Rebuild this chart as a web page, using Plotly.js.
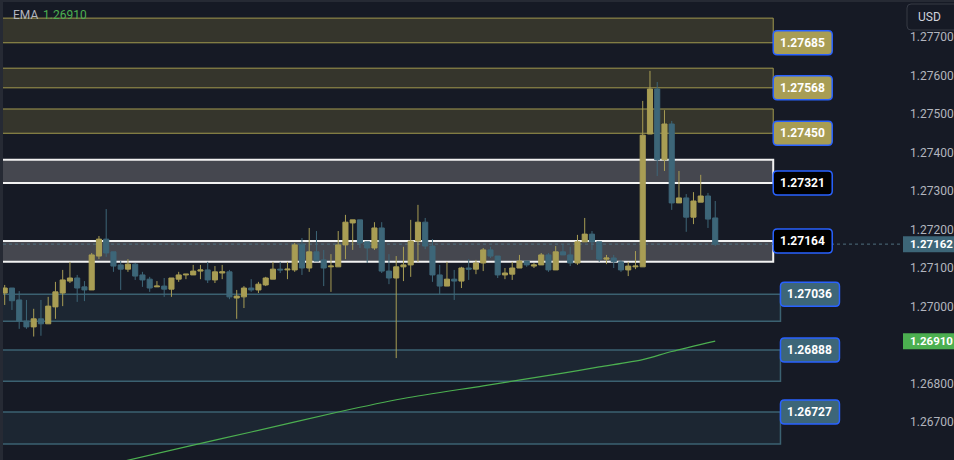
<!DOCTYPE html>
<html><head><meta charset="utf-8">
<script src="https://cdn.plot.ly/plotly-3.0.1.min.js"></script>
<style>
html,body{margin:0;padding:0;background:#262a34;width:954px;height:460px;overflow:hidden}
#chart{position:absolute;left:3px;top:2px;width:951px;height:458px}
</style></head><body><div id="chart"></div>
<script>
// ---- data ----
const openP = [
1.27035,1.27048,1.27017,1.26962,1.26947,1.26968,1.26955,1.26999,1.27035,1.27066,
1.27074,1.27051,1.27043,1.27131,1.27175,1.27142,1.27108,1.27097,1.27110,1.27082,
1.27071,1.27051,1.27053,1.27045,1.27071,1.27082,1.27082,1.27092,1.27095,1.27069,
1.27087,1.27090,1.27022,1.27025,1.27048,1.27043,1.27056,1.27071,1.27097,1.27095,
1.27095,1.27162,1.27100,1.27142,1.27121,1.27103,1.27103,1.27160,1.27217,1.27225,
1.27168,1.27152,1.27204,1.27092,1.27074,1.27103,1.27108,1.27170,1.27219,1.27157,
1.27082,1.27053,1.27071,1.27066,1.27100,1.27097,1.27113,1.27147,1.27131,1.27082,
1.27084,1.27100,1.27118,1.27105,1.27108,1.27134,1.27095,1.27142,1.27134,1.27113,
1.27168,1.27188,1.27168,1.27123,1.27126,1.27116,1.27095,1.27103,1.27103,1.27448,
1.27565,1.27381,1.27474,1.27269,1.27282,1.27232,1.27271,1.27287,1.27230];
const highP = [
1.27056,1.27048,1.27040,1.27017,1.26994,1.27017,1.27025,1.27064,1.27095,1.27116,
1.27082,1.27066,1.27139,1.27183,1.27253,1.27142,1.27118,1.27123,1.27113,1.27090,
1.27077,1.27066,1.27074,1.27074,1.27090,1.27084,1.27108,1.27108,1.27116,1.27105,
1.27108,1.27095,1.27043,1.27053,1.27071,1.27064,1.27077,1.27116,1.27116,1.27116,
1.27165,1.27178,1.27204,1.27196,1.27147,1.27136,1.27196,1.27238,1.27225,1.27225,
1.27168,1.27219,1.27219,1.27136,1.27131,1.27155,1.27225,1.27264,1.27230,1.27175,
1.27108,1.27116,1.27095,1.27103,1.27123,1.27121,1.27152,1.27155,1.27131,1.27100,
1.27116,1.27134,1.27118,1.27113,1.27139,1.27139,1.27157,1.27162,1.27155,1.27186,
1.27230,1.27196,1.27168,1.27134,1.27134,1.27121,1.27116,1.27144,1.27534,1.27612,
1.27583,1.27510,1.27482,1.27352,1.27292,1.27297,1.27342,1.27295,1.27274];
const lowP = [
1.27004,1.26991,1.26942,1.26942,1.26922,1.26924,1.26955,1.26968,1.27001,1.27061,
1.27012,1.27014,1.27043,1.27123,1.27129,1.27090,1.27043,1.27090,1.27069,1.27051,
1.27038,1.27051,1.27025,1.27025,1.27064,1.27071,1.27082,1.27071,1.27061,1.27061,
1.27071,1.27019,1.26968,1.26996,1.27038,1.27035,1.27053,1.27071,1.27087,1.27071,
1.27090,1.27082,1.27090,1.27118,1.27053,1.27038,1.27103,1.27123,1.27147,1.27152,
1.27113,1.27147,1.27087,1.27058,1.26866,1.27066,1.27077,1.27116,1.27149,1.27064,
1.27032,1.27053,1.27017,1.27048,1.27069,1.27084,1.27092,1.27126,1.27074,1.27071,
1.27069,1.27100,1.27103,1.27100,1.27108,1.27090,1.27095,1.27134,1.27105,1.27108,
1.27168,1.27147,1.27116,1.27110,1.27100,1.27090,1.27079,1.27097,1.27103,1.27448,
1.27339,1.27352,1.27251,1.27269,1.27194,1.27214,1.27271,1.27204,1.27157];
const closeP = [
1.27048,1.27015,1.26962,1.26947,1.26968,1.26955,1.27001,1.27038,1.27069,1.27074,
1.27048,1.27043,1.27134,1.27175,1.27139,1.27105,1.27097,1.27110,1.27079,1.27069,
1.27048,1.27053,1.27045,1.27074,1.27082,1.27084,1.27092,1.27095,1.27069,1.27090,
1.27090,1.27025,1.27027,1.27048,1.27043,1.27058,1.27074,1.27097,1.27095,1.27097,
1.27160,1.27100,1.27142,1.27118,1.27100,1.27105,1.27160,1.27219,1.27225,1.27165,
1.27152,1.27204,1.27092,1.27074,1.27103,1.27108,1.27170,1.27219,1.27157,1.27082,
1.27053,1.27071,1.27066,1.27100,1.27097,1.27113,1.27147,1.27131,1.27082,1.27087,
1.27100,1.27118,1.27108,1.27108,1.27134,1.27095,1.27142,1.27134,1.27113,1.27168,
1.27188,1.27168,1.27123,1.27126,1.27116,1.27095,1.27105,1.27105,1.27445,1.27565,
1.27381,1.27474,1.27269,1.27282,1.27232,1.27274,1.27287,1.27227,1.27162];

const emaIdx = [15, 26, 34, 46, 55, 66, 77, 82, 88, 92, 98];
const emaVal = [1.26592, 1.26640, 1.26674, 1.26726, 1.26761, 1.26794, 1.26827, 1.26843, 1.26862, 1.26883, 1.26910];

const zoneLow   = [1.27685, 1.27568, 1.27450, 1.27321, 1.27116, 1.26962, 1.26806, 1.26643];
const zoneHigh  = [1.27749, 1.27619, 1.27513, 1.27381, 1.27170, 1.27032, 1.26887, 1.26726];
const zoneLabel = ['1.27685','1.27568','1.27450','1.27321','1.27164','1.27036','1.26888','1.26727'];
const zoneLabelEdge = ['low','low','low','low','high','high','high','high'];
const zoneKind  = ['res','res','res','mid','mid','sup','sup','sup'];
const zoneEnd   = [106, 106, 106, 106, 106, 107, 107, 107];

const yTicks = [1.266, 1.267, 1.268, 1.270, 1.271, 1.272, 1.273, 1.274, 1.275, 1.276, 1.277];
const currency = 'USD';
const emaName = 'EMA';

// ---- geometry ----
const W = 951, H = 458, MR = 51, PW = W - MR;
const xRange = [-0.234, 123.9];
const yRange = [1.266013, 1.277909];
const pxX = (xRange[1] - xRange[0]) / PW;
const pxY = (yRange[1] - yRange[0]) / H;
const py = p => (p - yRange[0]) / (yRange[1] - yRange[0]);
const FONT = 'Roboto, "Open Sans", sans-serif';
const UP = '#a89d54', DN = '#3d6678', BG = '#161a25';

function rr(x0, x1, y0, y1, rx, ry) {
  return `M${x0+rx},${y0} L${x1-rx},${y0} Q${x1},${y0} ${x1},${y0+ry} L${x1},${y1-ry} Q${x1},${y1} ${x1-rx},${y1} L${x0+rx},${y1} Q${x0},${y1} ${x0},${y1-ry} L${x0},${y0+ry} Q${x0},${y0} ${x0+rx},${y0} Z`;
}

const kindStyle = {
  res: {fill: '#35352c', line: '#a39a4e', lw: 1, tag: '#a89d54'},
  mid: {fill: '#45474f', line: '#f2f2f2', lw: 2, tag: '#000000'},
  sup: {fill: '#1c2632', line: '#3b6171', lw: 1.5, tag: '#3d6678'}
};

const shapes = [];
const annotations = [];

zoneLow.forEach((lo, i) => {
  const st = kindStyle[zoneKind[i]];
  shapes.push({type: 'rect', xref: 'x', yref: 'y', x0: xRange[0] - 2, x1: zoneEnd[i], y0: lo, y1: zoneHigh[i],
    fillcolor: st.fill, line: {color: st.line, width: st.lw}, layer: 'below'});
});
// last price dotted line
const last = closeP[closeP.length - 1];
shapes.push({type: 'line', xref: 'x', yref: 'y', x0: xRange[0], x1: xRange[1], y0: last, y1: last,
  line: {color: '#4f6e7e', width: 1, dash: 'dot'}, layer: 'below'});

// zone labels
zoneLow.forEach((lo, i) => {
  const st = kindStyle[zoneKind[i]];
  const yc = zoneLabelEdge[i] === 'low' ? lo : zoneHigh[i];
  const x0 = zoneEnd[i], x1 = x0 + 59 * pxX;
  shapes.push({type: 'path', xref: 'x', yref: 'y', layer: 'above',
    path: rr(x0, x1, yc - 12 * pxY, yc + 12 * pxY, 4 * pxX, 4 * pxY),
    fillcolor: st.tag, line: {color: '#2962ff', width: 1.5}});
  annotations.push({xref: 'x', yref: 'y', x: (x0 + x1) / 2, y: yc, text: '<b>' + zoneLabel[i] + '</b>',
    showarrow: false, xanchor: 'center', yanchor: 'middle', font: {family: FONT, size: 12, color: '#ffffff'}});
});

// right price tags
const emaLast = emaVal[emaVal.length - 1];
[[last, DN], [emaLast, '#4caf50']].forEach(([p, c]) => {
  shapes.push({type: 'rect', xref: 'paper', yref: 'paper', x0: 1, x1: 1 + 52 / PW,
    y0: py(p) - 8 / H, y1: py(p) + 8 / H, fillcolor: c, line: {width: 0}, layer: 'above'});
  annotations.push({xref: 'paper', yref: 'paper', x: 1 + 5 / PW, y: py(p), xanchor: 'left', yanchor: 'middle',
    text: '<b>' + p.toFixed(5) + '</b>', showarrow: false, font: {family: FONT, size: 11.5, color: '#ffffff'}});
});

// currency button (top right)
shapes.push({type: 'rect', xref: 'paper', yref: 'paper', x0: 1 - 2 / PW, x1: 1 + 60 / PW,
  y0: 1 - 30 / H, y1: 1 + 2 / H, fillcolor: BG, line: {width: 0}, layer: 'above'});
shapes.push({type: 'path', xref: 'paper', yref: 'paper', layer: 'above',
  path: rr(1 + 4 / PW, 1 + 56 / PW, 1 - 28 / H, 1 - 2 / H, 4 / PW, 4 / H),
  fillcolor: BG, line: {color: '#363a45', width: 1}});
annotations.push({xref: 'paper', yref: 'paper', x: 1 + 13 / PW, y: 1 - 15 / H, xanchor: 'left', yanchor: 'middle',
  text: currency, showarrow: false, font: {family: FONT, size: 12, color: '#d1d4dc'}});

// EMA legend
annotations.push({xref: 'paper', yref: 'paper', x: 8 / PW, y: 1 - 12.5 / H, xanchor: 'left', yanchor: 'middle',
  text: emaName, showarrow: false, font: {family: FONT, size: 12, color: '#b2b5be'}});
annotations.push({xref: 'paper', yref: 'paper', x: 37.5 / PW, y: 1 - 12.5 / H, xanchor: 'left', yanchor: 'middle',
  text: emaLast.toFixed(5), showarrow: false, font: {family: FONT, size: 12, color: '#4caf50'}});

const idx = openP.map((_, i) => i);

const traces = [
  {type: 'scatter', mode: 'lines', x: emaIdx, y: emaVal, line: {color: '#4caf50', width: 1.2, shape: 'spline', smoothing: 0.8}, hoverinfo: 'skip'},
  {type: 'candlestick', x: idx, open: openP, high: highP, low: lowP, close: closeP,
    increasing: {line: {color: UP, width: 1}, fillcolor: UP},
    decreasing: {line: {color: DN, width: 1}, fillcolor: DN},
    whiskerwidth: 0, hoverinfo: 'skip'}
];

const layout = {
  width: W, height: H, margin: {l: 0, r: MR, t: 0, b: 0, pad: 0},
  paper_bgcolor: BG, plot_bgcolor: BG, showlegend: false, dragmode: false,
  boxgap: 0, boxgroupgap: 0.3,
  font: {family: FONT},
  xaxis: {range: xRange, visible: false, rangeslider: {visible: false}, fixedrange: true},
  yaxis: {range: yRange, side: 'right', showgrid: false, zeroline: false, showline: false, ticks: '',
    tickvals: yTicks, ticktext: yTicks.map(v => v.toFixed(5)), ticklabelstandoff: 6,
    tickfont: {family: FONT, size: 12, color: '#b2b5be'}, fixedrange: true},
  shapes, annotations
};

Plotly.newPlot('chart', traces, layout, {staticPlot: true, displayModeBar: false});
</script></body></html>
